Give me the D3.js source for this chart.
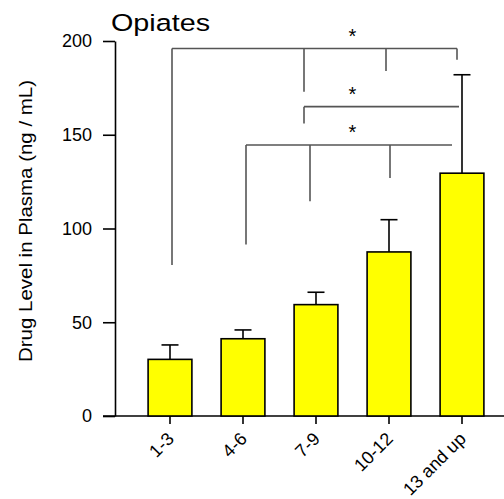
<!DOCTYPE html>
<html>
<head>
<meta charset="utf-8">
<script src="https://cdn.jsdelivr.net/npm/d3@7"></script>
<style>
  body { margin: 0; background: #fff; }
  svg { display: block; font-family: Arial, "Liberation Sans", sans-serif; }
</style>
</head>
<body>
<svg id="chart" width="504" height="499"></svg>
<script>
// data
const categories = ["1-3", "4-6", "7-9", "10-12", "13 and up"];
const means = [30.2, 41.2, 59.4, 87.5, 129.5];
const errors = [7.7, 4.7, 6.6, 17.2, 52.5];
const yTicks = [0, 50, 100, 150, 200];

// significance brackets: horizontal level, end categories, and where each drop stops
const bracketLevels = [196, 165, 144.5];
const bracketStart = ["1-3", "7-9", "4-6"];
const bracketEnd = ["13 and up", "13 and up", "13 and up"];
const bracketDrops = [
  [["1-3", 80.5], ["7-9", 173], ["10-12", 184], ["13 and up", 190]],
  [["7-9", 156]],
  [["4-6", 91.5], ["7-9", 114.6], ["10-12", 127]]
];

// small horizontal nudges so the drops sit where the original put them
const dropNudgeByBracket = [
  { "1-3": 2, "7-9": -12, "10-12": -3, "13 and up": -5 },
  { "7-9": -12, "13 and up": -3 },
  { "4-6": 3, "7-9": -6, "10-12": 1, "13 and up": -10 }
];

const svg = d3.select("#chart");

const y = d3.scaleLinear().domain([0, 200]).range([416, 41]);
const x = d3.scaleBand()
  .domain(categories)
  .range([133.5, 498.5])
  .paddingInner(0.4)
  .paddingOuter(0.2);
const cx = c => x(c) + x.bandwidth() / 2;

// y axis
const yAxis = svg.append("g")
  .attr("transform", "translate(115,0)")
  .call(d3.axisLeft(y).tickValues(yTicks).tickSize(12).tickSizeOuter(0).tickPadding(11));
yAxis.select(".domain").attr("stroke", "#000").attr("stroke-width", 1.6);
yAxis.selectAll(".tick line").attr("stroke", "#000").attr("stroke-width", 1.6);
yAxis.selectAll(".tick text").attr("font-size", 18).attr("fill", "#000")
  .attr("font-family", "Arial, 'Liberation Sans', sans-serif");

// x axis
const xAxis = svg.append("g")
  .attr("transform", `translate(0,${y(0)})`)
  .call(d3.axisBottom(x).tickSize(8).tickSizeOuter(0));
xAxis.select(".domain").remove();
xAxis.selectAll(".tick line").attr("stroke", "#000").attr("stroke-width", 1.6);
xAxis.selectAll(".tick text")
  .attr("font-size", 18)
  .attr("fill", "#000")
  .attr("font-family", "Arial, 'Liberation Sans', sans-serif")
  .attr("text-anchor", "end")
  .attr("dy", null)
  .attr("y", 0)
  .attr("transform", "translate(5,24) rotate(-45)");

svg.append("line")
  .attr("x1", 103).attr("x2", 504)
  .attr("y1", y(0)).attr("y2", y(0))
  .attr("stroke", "#000").attr("stroke-width", 1.6);

// error bars (upper only)
const err = svg.append("g").attr("stroke", "#000").attr("stroke-width", 1.6);
categories.forEach((c, i) => {
  err.append("line")
    .attr("x1", cx(c)).attr("x2", cx(c))
    .attr("y1", y(means[i])).attr("y2", y(means[i] + errors[i]));
  err.append("line")
    .attr("x1", cx(c) - 8.5).attr("x2", cx(c) + 8.5)
    .attr("y1", y(means[i] + errors[i])).attr("y2", y(means[i] + errors[i]));
});

// bars
svg.append("g").selectAll("rect")
  .data(categories)
  .join("rect")
  .attr("x", d => x(d))
  .attr("y", (d, i) => y(means[i]))
  .attr("width", x.bandwidth())
  .attr("height", (d, i) => y(0) - y(means[i]))
  .attr("fill", "#ffff00")
  .attr("stroke", "#000")
  .attr("stroke-width", 1.6);

// brackets
const br = svg.append("g").attr("stroke", "#555").attr("stroke-width", 1.6).attr("fill", "none");
bracketLevels.forEach((lvl, b) => {
  const nudge = dropNudgeByBracket[b];
  const x0 = cx(bracketStart[b]) + nudge[bracketStart[b]];
  const x1 = cx(bracketEnd[b]) + nudge[bracketEnd[b]];
  br.append("line")
    .attr("x1", x0).attr("x2", x1)
    .attr("y1", y(lvl)).attr("y2", y(lvl));
  bracketDrops[b].forEach(([c, to]) => {
    const xx = cx(c) + nudge[c];
    br.append("line")
      .attr("x1", xx).attr("x2", xx)
      .attr("y1", y(lvl)).attr("y2", y(to));
  });
  svg.append("text")
    .attr("x", (cx("7-9") + cx("10-12")) / 2)
    .attr("y", y(lvl) - 6)
    .attr("text-anchor", "middle")
    .attr("font-size", 20)
    .attr("fill", "#000")
    .text("*");
});

// title
svg.append("text")
  .attr("x", 111).attr("y", 31)
  .attr("font-size", 24.5)
  .attr("textLength", 99)
  .attr("lengthAdjust", "spacingAndGlyphs")
  .attr("fill", "#000")
  .text("Opiates");

// y label
svg.append("text")
  .attr("transform", "translate(32,221) rotate(-90)")
  .attr("text-anchor", "middle")
  .attr("font-size", 18)
  .attr("textLength", 282)
  .attr("lengthAdjust", "spacingAndGlyphs")
  .attr("fill", "#000")
  .text("Drug Level in Plasma (ng / mL)");
</script>
</body>
</html>
